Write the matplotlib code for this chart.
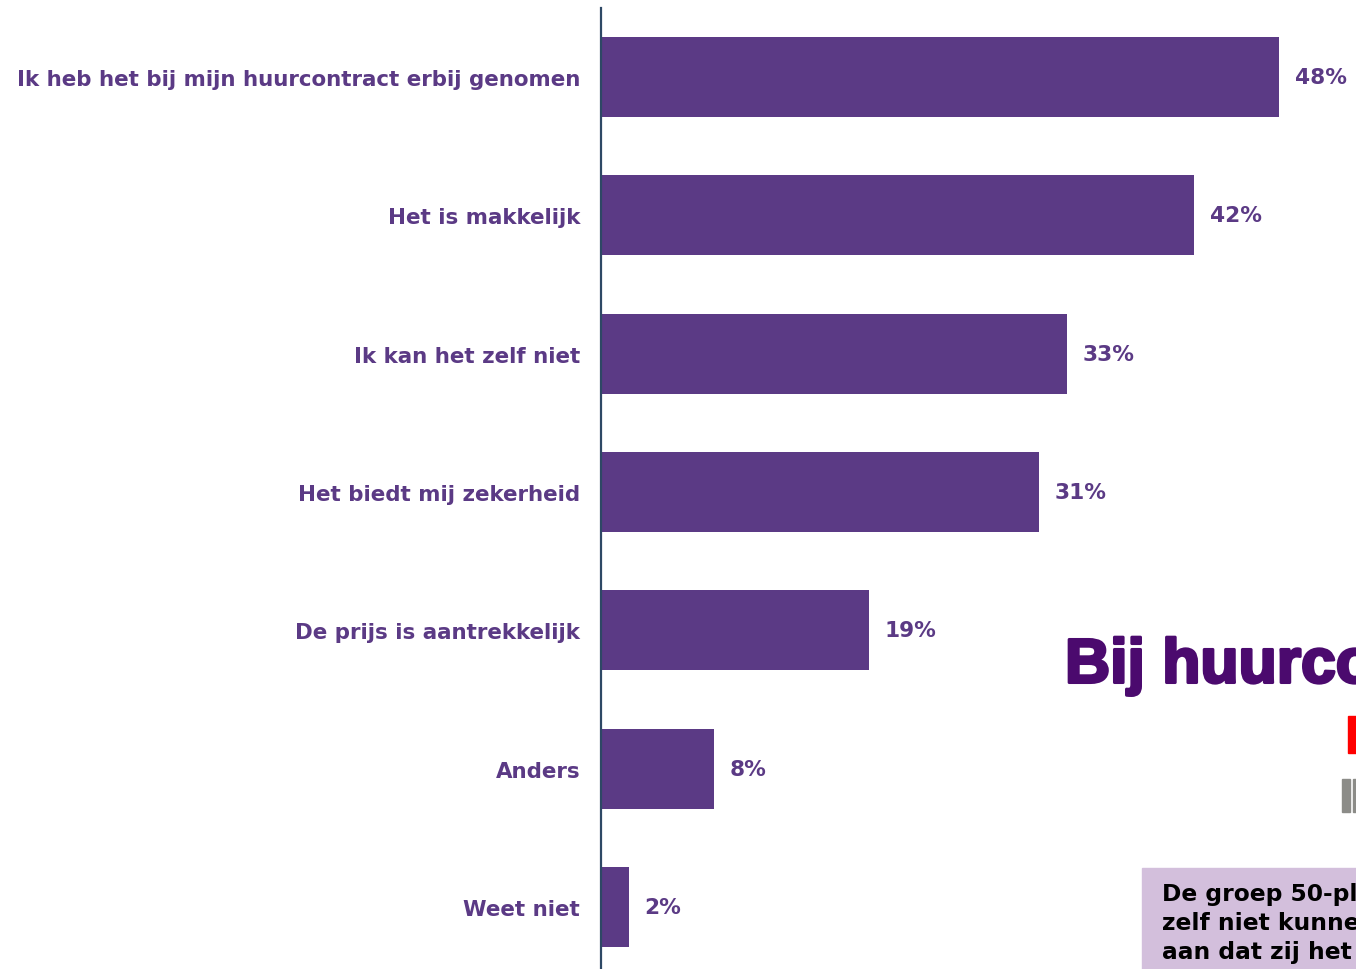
import matplotlib
matplotlib.use("Agg")
import matplotlib.pyplot as plt
import matplotlib.patheffects as pe
from matplotlib.patches import Rectangle

categories = [
    "Ik heb het bij mijn huurcontract erbij genomen",
    "Het is makkelijk",
    "Ik kan het zelf niet",
    "Het biedt mij zekerheid",
    "De prijs is aantrekkelijk",
    "Anders",
    "Weet niet",
]
values = [48, 42, 33, 31, 19, 8, 2]
value_labels = [f"{v}%" for v in values]

headline = "Bij huurco"
note_lines = ["De groep 50-pl", "zelf niet kunne", "aan dat zij het"]

BAR = "#5B3A85"
SPINE = "#2E4865"
HEAD = "#4B0A6E"
W, H = 1356, 970

fig = plt.figure(figsize=(W / 100, H / 100), dpi=100)
fig.patch.set_facecolor("white")

ax = fig.add_axes([601 / W, 0, (W - 601) / W, (H - 9) / H])
ypos = list(range(len(categories)))
ax.barh(ypos, values, height=0.58, color=BAR, zorder=2)
ax.set_xlim(0, 755 / 14.13)
ax.set_ylim(6.448, -0.499)

for s in ["top", "right", "bottom"]:
    ax.spines[s].set_visible(False)
ax.spines["left"].set_color(SPINE)
ax.spines["left"].set_linewidth(1.6)
ax.set_xticks([])
ax.set_yticks(ypos)
ax.set_yticklabels(categories, fontsize=15.4, fontweight="bold", color=BAR,
                   family="DejaVu Sans")
ax.tick_params(axis="y", length=0, pad=15)

for y, v, lab in zip(ypos, values, value_labels):
    ax.annotate(lab, (v, y), xytext=(11, 0), textcoords="offset points",
                ha="left", va="center", fontsize=15.6, fontweight="bold",
                color=BAR, family="DejaVu Sans")

# Side panel elements running off the right edge
fig.text(1065 / W, 1 - 667 / H, headline, fontsize=45, fontweight="bold",
         family="Liberation Sans", color=HEAD, ha="left", va="center",
         path_effects=[pe.withStroke(linewidth=2.2, foreground=HEAD)])
fig.patches.append(Rectangle((1348 / W, 1 - 754 / H), 10 / W, 37 / H,
                             transform=fig.transFigure, color="#FF0000"))
fig.patches.append(Rectangle((1342 / W, 1 - 813 / H), 8 / W, 33 / H,
                             transform=fig.transFigure, color="#8C8C88"))
fig.patches.append(Rectangle((1353 / W, 1 - 813 / H), 5 / W, 33 / H,
                             transform=fig.transFigure, color="#8C8C88"))
fig.patches.append(Rectangle((1142 / W, 0), (W - 1142) / W, (H - 869) / H,
                             transform=fig.transFigure, color="#D3BFDC"))
for i, line in enumerate(note_lines):
    fig.text(1162 / W, 1 - (895 + 29 * i) / H, line, fontsize=16.8,
             fontweight="bold", family="DejaVu Sans", color="black",
             ha="left", va="center")

fig.savefig("out.png", dpi=100)
